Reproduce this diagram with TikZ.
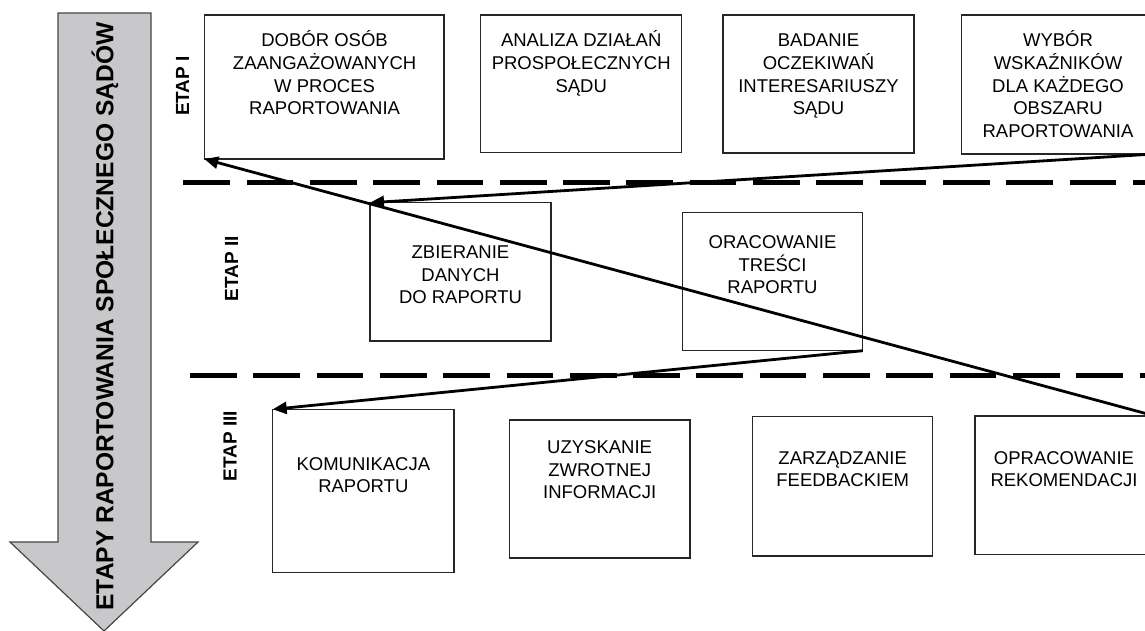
\documentclass[tikz,border=0pt]{standalone}
\usepackage{fontspec}
\setmainfont{Liberation Sans}
\usetikzlibrary{arrows.meta}
\definecolor{bandgrey}{RGB}{200,200,203}
\definecolor{bandline}{RGB}{70,70,70}

\begin{document}
\begin{tikzpicture}[x=1pt,y=-1pt,
    box/.style={draw=black!85, line width=1.1pt, outer sep=0pt, inner sep=0pt},
    txt/.style={align=center, anchor=base, inner sep=0pt, font=\fontsize{18.5pt}{22.7pt}\selectfont},
    etap/.style={anchor=base, rotate=90, inner sep=0pt, font=\fontsize{19pt}{22pt}\selectfont\bfseries},
    sep/.style={line width=5.3pt, dash pattern=on 46.7pt off 16.6pt},
    link/.style={-{Triangle[length=14pt,width=12pt]}, line width=2.8pt}]
  \useasboundingbox (0,0) rectangle (1145,630);
  % duza strzalka z lewej
  \draw[fill=bandgrey, draw=bandline, line width=1.2pt] (58,13) -- (151,13) -- (151,542) -- (198,542)
    -- (104,631) -- (10,542) -- (58,542) -- cycle;
  \node[anchor=base, rotate=90, inner sep=0pt, font=\fontsize{24.6pt}{28pt}\selectfont\bfseries] (title)
    at (113.3,316.5) {ETAPY RAPORTOWANIA SPOŁECZNEGO SĄDÓW};
  \node[etap] (e1) at (189,86) {ETAP I};
  \node[etap] (e2) at (238,268.5) {ETAP II};
  \node[etap] (e3) at (236.5,446) {ETAP III};
  % linie podzialu
  \draw[sep] (183.3,182.7) -- (1150,182.7);
  \draw[sep] (190,375.5) -- (1150,375.5);
  % etap I (base = ostatnia linia tekstu)
  \node[box, minimum width=239.7pt, minimum height=144pt] (b1) at (324.15,87) {};
  \node[box, minimum width=201pt, minimum height=137.7pt] (b2) at (581.2,83.85) {};
  \node[box, minimum width=191pt, minimum height=138pt] (b3) at (818.5,84) {};
  \node[box, minimum width=192.3pt, minimum height=139pt] (b4) at (1057.85,84.5) {};
  \node[txt] (t1) at (324.6,114.8) {DOBÓR OSÓB\\ZAANGAŻOWANYCH\\W PROCES\\RAPORTOWANIA};
  \node[txt] (t2) at (581.2,92.1) {ANALIZA DZIAŁAŃ\\PROSPOŁECZNYCH\\SĄDU};
  \node[txt] (t3) at (818.5,114.8) {BADANIE\\OCZEKIWAŃ\\INTERESARIUSZY\\SĄDU};
  \node[txt] (t4) at (1058,137.5) {WYBÓR\\WSKAŹNIKÓW\\DLA KAŻDEGO\\OBSZARU\\RAPORTOWANIA};
  % etap II
  \node[box, minimum width=181pt, minimum height=138.3pt] (c1) at (460.5,271.85) {};
  \node[box, minimum width=180.4pt, minimum height=138.4pt] (c2) at (772.5,281.5) {};
  \node[txt] (s1) at (460.5,303.9) {ZBIERANIE\\DANYCH\\DO RAPORTU};
  \node[txt] (s2) at (772.5,293.7) {ORACOWANIE\\TREŚCI\\RAPORTU};
  % etap III
  \node[box, minimum width=181.3pt, minimum height=163pt] (d1) at (363.35,490.8) {};
  \node[box, minimum width=180.7pt, minimum height=138pt] (d2) at (599.65,489) {};
  \node[box, minimum width=180pt, minimum height=139.3pt] (d3) at (842.7,486.35) {};
  \node[box, minimum width=180pt, minimum height=138.3pt] (d4) at (1065,485.15) {};
  \node[txt] (u1) at (363.35,492.7) {KOMUNIKACJA\\RAPORTU};
  \node[txt] (u2) at (599.65,498.7) {UZYSKANIE\\ZWROTNEJ\\INFORMACJI};
  \node[txt] (u3) at (842.7,486.7) {ZARZĄDZANIE\\FEEDBACKIEM};
  \node[txt] (u4) at (1064,486.7) {OPRACOWANIE\\REKOMENDACJI};
  % strzalki
  \draw[link] (b4.south east) -- (c1.north west);
  \draw[link] (c2.south east) -- (d1.north west);
  \draw[link] (d4.north east) -- (b1.south west);
\end{tikzpicture}
\end{document}
